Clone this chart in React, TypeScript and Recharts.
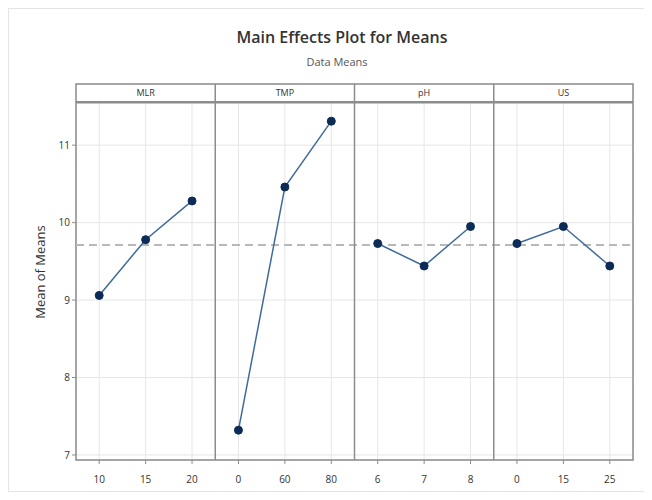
import {
  LineChart,
  Line,
  XAxis,
  YAxis,
  CartesianGrid,
  ReferenceLine,
  ReferenceArea,
} from 'recharts'

// Factor names and their level labels (one panel per factor)
const FACTORS = ['MLR', 'TMP', 'pH', 'US']
const LEVEL_LABELS = [
  ['10', '15', '20'],
  ['0', '60', '80'],
  ['6', '7', '8'],
  ['0', '15', '25'],
]

// Means
const MLR_MEANS = [9.06, 9.78, 10.28]
const TMP_MEANS = [7.32, 10.46, 11.31]
const PH_MEANS = [9.73, 9.44, 9.95]
const US_MEANS = [9.73, 9.95, 9.44]
const GRAND_MEAN = 9.71

const Y_TICKS = [7, 8, 9, 10, 11]

const SERIES = [MLR_MEANS, TMP_MEANS, PH_MEANS, US_MEANS]

// y-range of the plot, plus the strip header on top
const Y_MIN = 6.935
const STRIP_BOTTOM = 11.555
const Y_MAX = 11.79

const FONT = '"Open Sans", "Noto Sans", sans-serif'
const LINE_COLOR = '#3f6b9c'
const DOT_COLOR = '#0c2b57'
const FRAME = '#8c8c8c'

// one row per level; each panel gets its own key so lines stay separate
const rows = SERIES.flatMap((values, p) =>
  values.map((v, i) => ({ x: p * 3 + i + 0.5, [`s${p}`]: v })),
)
const xTicks = rows.map((r) => r.x)
const tickLabels = LEVEL_LABELS.flat()

export default function App() {
  return (
    <div
      style={{
        position: 'relative',
        width: 642,
        height: 482,
        border: '1px solid #e4e4e4',
        fontFamily: FONT,
        background: '#fff',
      }}
    >
      <div
        style={{
          position: 'absolute',
          top: 17,
          left: 0,
          width: 666,
          textAlign: 'center',
          fontSize: 16,
          fontWeight: 600,
          color: '#333',
        }}
      >
        Main Effects Plot for Means
      </div>
      <div
        style={{
          position: 'absolute',
          top: 45,
          left: 0,
          width: 656,
          textAlign: 'center',
          fontSize: 11,
          color: '#555',
        }}
      >
        Data Means
      </div>
      <LineChart
        width={642}
        height={482}
        data={rows}
        margin={{ top: 75, right: 18, bottom: 3, left: 0 }}
      >
        <CartesianGrid stroke="#e6e6e6" />
        <XAxis
          dataKey="x"
          type="number"
          domain={[0, 12]}
          ticks={xTicks}
          tickFormatter={(v: number) => tickLabels[Math.floor(v)]}
          height={28}
          axisLine={false}
          tickLine={{ stroke: FRAME }}
          tickSize={4}
          tickMargin={12}
          tick={{ fontSize: 10, fill: '#333', fontFamily: FONT }}
          interval={0}
        />
        <YAxis
          type="number"
          domain={[Y_MIN, Y_MAX]}
          ticks={Y_TICKS}
          allowDataOverflow
          width={67}
          axisLine={false}
          tickLine={{ stroke: FRAME }}
          tickSize={4}
          tick={{ fontSize: 10, fill: '#333', fontFamily: FONT }}
          label={{
            value: 'Mean of Means',
            angle: -90,
            position: 'insideLeft',
            offset: 31,
            style: { fontSize: 13, fill: '#333', textAnchor: 'middle', fontFamily: FONT },
          }}
        />
        {/* strip headers */}
        {FACTORS.map((f, p) => (
          <ReferenceArea
            key={f}
            x1={p * 3}
            x2={p * 3 + 3}
            y1={STRIP_BOTTOM}
            y2={Y_MAX}
            fill="#fff"
            fillOpacity={1}
            stroke="none"
            label={{ value: f, position: 'center', fontSize: 9, fill: '#333', fontFamily: FONT }}
          />
        ))}
        <ReferenceLine y={STRIP_BOTTOM} stroke={FRAME} strokeWidth={2.5} />
        <ReferenceLine y={GRAND_MEAN} stroke="#b8b8b8" strokeWidth={2} strokeDasharray="8 5" />
        {[3, 6, 9].map((x) => (
          <ReferenceLine key={x} x={x} stroke={FRAME} strokeWidth={1.5} />
        ))}
        <ReferenceArea
          x1={0}
          x2={12}
          y1={Y_MIN}
          y2={Y_MAX}
          fill="none"
          stroke={FRAME}
          strokeWidth={1.5}
        />
        {FACTORS.map((f, p) => (
          <Line
            key={f}
            dataKey={`s${p}`}
            stroke={LINE_COLOR}
            strokeWidth={1.5}
            dot={{ r: 4, fill: DOT_COLOR, stroke: DOT_COLOR, strokeWidth: 1 }}
            connectNulls={false}
            isAnimationActive={false}
          />
        ))}
      </LineChart>
    </div>
  )
}
